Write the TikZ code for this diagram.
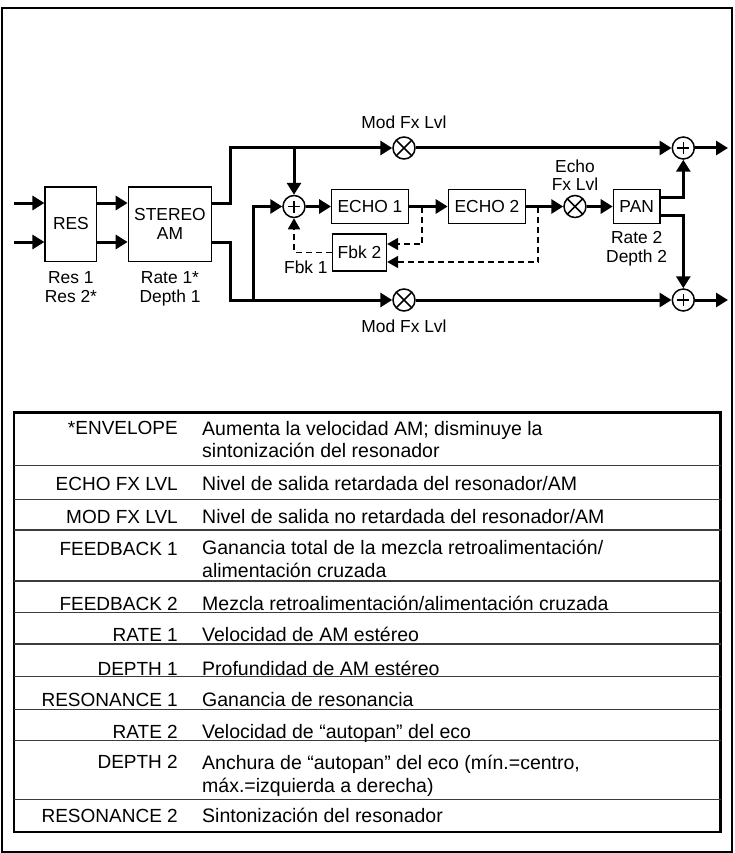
\documentclass[tikz,border=0pt]{standalone}
\usepackage{fontspec}
\setmainfont{Liberation Sans}
\usepackage{tikz}
\usetikzlibrary{positioning,arrows.meta}
\definecolor{rulegray}{RGB}{60,60,60}

\begin{document}
\begin{tikzpicture}[x=1pt, y=-1pt]
    \tikzstyle{block} = [rectangle, draw, line width=1.3pt, inner sep=0pt, align=center, font=\fontsize{17.4}{18.5}\selectfont]
    \tikzstyle{sumnode} = [circle, draw, line width=1.5pt, minimum size=22pt, inner sep=0pt, path picture={\draw[line width=1.5pt] ([xshift=-6pt]path picture bounding box.center) -- ([xshift=6pt]path picture bounding box.center) ([yshift=-6pt]path picture bounding box.center) -- ([yshift=6pt]path picture bounding box.center);}]
    \tikzstyle{mulnode} = [circle, draw, line width=1.5pt, minimum size=22pt, inner sep=0pt, path picture={\draw[line width=1.5pt] (path picture bounding box.north west) -- (path picture bounding box.south east) (path picture bounding box.north east) -- (path picture bounding box.south west);}]
    \tikzstyle{sig} = [line width=3pt, -{Triangle[length=12pt, width=14pt]}]
    \tikzstyle{fb} = [line width=1.6pt, dash pattern=on 6pt off 4pt, -{Triangle[length=11pt, width=12pt]}]
    \tikzstyle{lbl} = [inner sep=1pt, align=center, font=\fontsize{17.4}{18.5}\selectfont]
    \tikzstyle{tabkey} = [inner sep=0pt, anchor=base east, font=\fontsize{19}{23}\selectfont]
    \tikzstyle{tabdesc} = [inner sep=0pt, anchor=base west, align=left, font=\fontsize{19.5}{22.5}\selectfont]
    \tikzstyle{rowline} = [line width=1.4pt, draw=rulegray]

    % Frame
    \useasboundingbox (0,0) rectangle (734,853);
    \draw[line width=2pt] (2,8.5) rectangle (731.5,851.5);

    % Blocks
    \node[block, minimum width=51.7pt, minimum height=74.3pt] (res) at (70.9,224) {RES};
    \node[block, minimum width=83.4pt, minimum height=74.3pt] (am) at (170,224) {STEREO\\AM};
    \node[block, minimum width=76.6pt, minimum height=33.4pt] (echoA) at (370,206.5) {ECHO 1};
    \node[block, minimum width=77.4pt, minimum height=33.4pt] (echoB) at (487,206.5) {ECHO 2};
    \node[block, minimum width=54pt, minimum height=37pt] (fbk) at (359.5,252.5) {Fbk 2};
    \node[block, minimum width=46.7pt, minimum height=33.4pt] (pan) at (636.7,206.5) {PAN};

    % Mixers
    \node[sumnode] (sumIn) at (294,206.5) {};
    \node[mulnode] (mulTop) at (404,148) {};
    \node[mulnode] (mulBot) at (404,300) {};
    \node[mulnode] (mulEcho) at (575,206.5) {};
    \node[sumnode] (sumTop) at (683.3,148) {};
    \node[sumnode] (sumBot) at (683.3,300) {};

    % Corners and taps
    \coordinate (inA) at (14,203);
    \coordinate (inB) at (14,242);
    \coordinate (splitTop) at (230,148);
    \coordinate (splitBot) at (230,300);
    \coordinate (tapBot) at (253,300);
    \coordinate (tapA) at (422,206.5);
    \coordinate (tapB) at (538,206.5);
    \coordinate (outTop) at (728,148);
    \coordinate (outBot) at (728,300);

    % Signal path
    \draw[sig] (inA) -- (inA -| res.west);
    \draw[sig] (inB) -- (inB -| res.west);
    \draw[sig] (inA -| res.east) -- (inA -| am.west);
    \draw[sig] (inB -| res.east) -- (inB -| am.west);
    \draw[sig] (inA -| am.east) -| (splitTop) -- (mulTop);
    \draw[sig] (inB -| am.east) -| (splitBot) -- (mulBot);
    \draw[sig] (sumIn |- splitTop) -- (sumIn);
    \draw[sig] (tapBot) |- (sumIn);
    \draw[sig] (sumIn) -- (echoA);
    \draw[sig] (echoA) -- (echoB);
    \draw[sig] (echoB) -- (mulEcho);
    \draw[sig] (mulEcho) -- (pan);
    \draw[sig] ([yshift=9pt]pan.east) -| (sumTop);
    \draw[sig] ([yshift=-9pt]pan.east) -| (sumBot);
    \draw[sig] (mulTop) -- (sumTop);
    \draw[sig] (mulBot) -- (sumBot);
    \draw[sig] (sumTop) -- (outTop);
    \draw[sig] (sumBot) -- (outBot);

    % Feedback
    \draw[fb] (tapA) |- ([yshift=8.5pt]fbk.east);
    \draw[fb] (tapB) |- ([yshift=-9.5pt]fbk.east);
    \draw[fb] (fbk.west) -| (sumIn);

    % Labels
    \node[lbl, below=9pt of res] (resLbl) {Res 1\\Res 2*};
    \node[lbl, below=9pt of am] (amLbl) {Rate 1*\\Depth 1};
    \node[lbl, above=6pt of mulTop] (modTopLbl) {Mod Fx Lvl};
    \node[lbl, below=7pt of mulBot] (modBotLbl) {Mod Fx Lvl};
    \node[lbl, above=3pt of mulEcho] (echoLbl) {Echo\\Fx Lvl};
    \node[lbl, below=6.5pt of pan] (panLbl) {Rate 2\\Depth 2};
    \node[lbl, anchor=north east] (fbkLbl) at ([xshift=-3pt,yshift=-7.5pt]fbk.west) {Fbk 1};

    % Table
    \draw[line width=2.5pt] (14,412.5) rectangle (720.5,832);
    \draw[rowline] (14,465.7) -- (720.5,465.7);
    \draw[rowline] (14,499.3) -- (720.5,499.3);
    \draw[rowline] (14,530) -- (720.5,530);
    \draw[rowline] (14,581) -- (720.5,581);
    \draw[rowline] (14,612.3) -- (720.5,612.3);
    \draw[rowline] (14,644) -- (720.5,644);
    \draw[rowline] (14,676.7) -- (720.5,676.7);
    \draw[rowline] (14,709.3) -- (720.5,709.3);
    \draw[rowline] (14,740.7) -- (720.5,740.7);
    \draw[rowline] (14,799.3) -- (720.5,799.3);

    % Table texts (multi-line cells sit on their last line)
    \node[tabkey] (kEnv) at (178,434) {*ENVELOPE};
    \node[tabdesc] (dEnv) at (202,457.5) {Aumenta la velocidad AM; disminuye la\\sintonización del resonador};
    \node[tabkey] (kEcho) at (178,490.7) {ECHO FX LVL};
    \node[tabdesc] (dEcho) at (202,490.7) {Nivel de salida retardada del resonador/AM};
    \node[tabkey] (kMod) at (178,523.3) {MOD FX LVL};
    \node[tabdesc] (dMod) at (202,523.3) {Nivel de salida no retardada del resonador/AM};
    \node[tabkey] (kFbA) at (178,555) {FEEDBACK 1};
    \node[tabdesc] (dFbA) at (202,577) {Ganancia total de la mezcla retroalimentación/\\alimentación cruzada};
    \node[tabkey] (kFbB) at (178,610) {FEEDBACK 2};
    \node[tabdesc] (dFbB) at (202,610) {Mezcla retroalimentación/alimentación cruzada};
    \node[tabkey] (kRateA) at (178,641.7) {RATE 1};
    \node[tabdesc] (dRateA) at (202,641.7) {Velocidad de AM estéreo};
    \node[tabkey] (kDepthA) at (178,675) {DEPTH 1};
    \node[tabdesc] (dDepthA) at (202,675) {Profundidad de AM estéreo};
    \node[tabkey] (kResA) at (178,706) {RESONANCE 1};
    \node[tabdesc] (dResA) at (202,706) {Ganancia de resonancia};
    \node[tabkey] (kRateB) at (178,738.3) {RATE 2};
    \node[tabdesc] (dRateB) at (202,738.3) {Velocidad de “autopan” del eco};
    \node[tabkey] (kDepthB) at (178,768.5) {DEPTH 2};
    \node[tabdesc] (dDepthB) at (202,792) {Anchura de “autopan” del eco (mín.=centro,\\máx.=izquierda a derecha)};
    \node[tabkey] (kResB) at (178,822.7) {RESONANCE 2};
    \node[tabdesc] (dResB) at (202,822.7) {Sintonización del resonador};
\end{tikzpicture}
\end{document}
